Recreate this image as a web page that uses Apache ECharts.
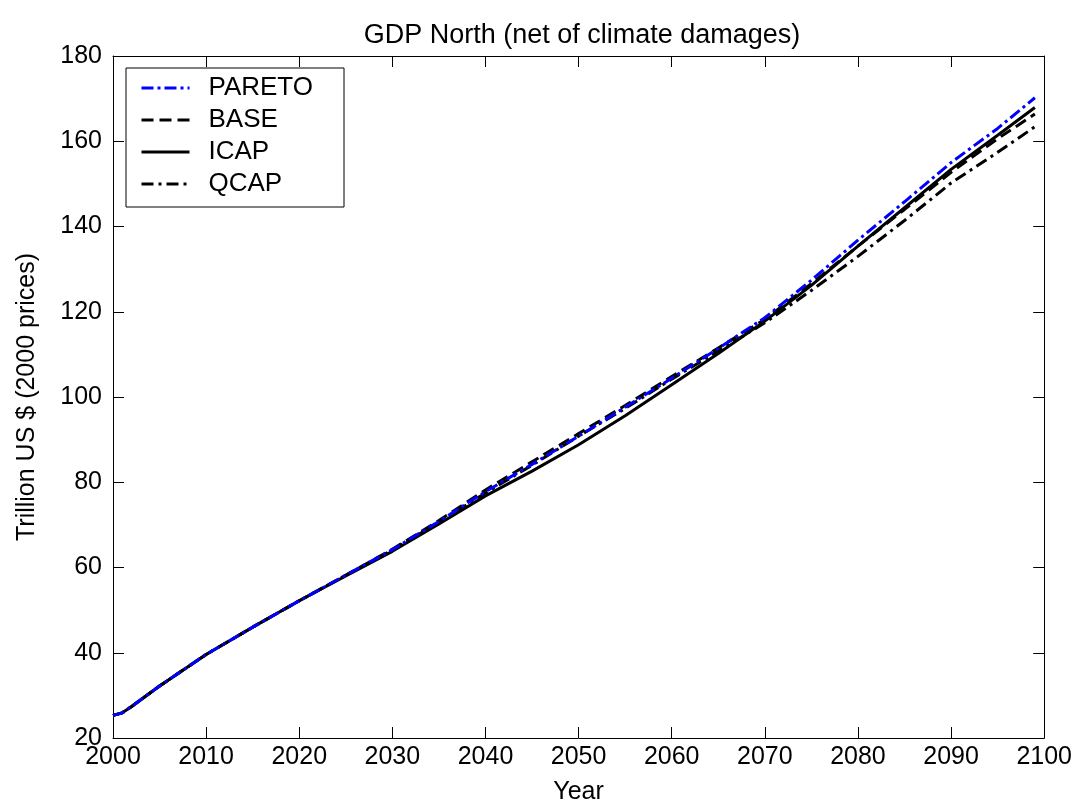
<!DOCTYPE html>
<html>
<head>
<meta charset="utf-8">
<script src="https://cdn.jsdelivr.net/npm/echarts@6/dist/echarts.min.js"></script>
<style>html,body{margin:0;padding:0;background:#fff;}#main{width:1075px;height:810px;}</style>
</head>
<body>
<div id="main"></div>
<script>
const years  = [2000, 2001, 2002, 2005, 2010, 2015, 2020, 2025, 2030, 2035, 2040, 2045, 2050, 2055, 2060, 2065, 2070, 2075, 2080, 2085, 2090, 2095, 2099];
const pareto = [25.3, 25.9, 27.4, 32.2, 39.6, 46.0, 52.2, 58.2, 64.2, 70.8, 77.8, 84.2, 90.8, 97.6, 104.4, 111.4, 118.6, 127.4, 136.8, 145.8, 155.0, 163.0, 170.2];
const base   = [25.3, 25.9, 27.4, 32.2, 39.6, 46.0, 52.2, 58.2, 64.3, 71.0, 78.2, 84.8, 91.4, 98.0, 104.8, 111.5, 118.2, 126.6, 135.4, 144.0, 152.7, 160.6, 166.4];
const icap   = [25.3, 25.9, 27.4, 32.2, 39.6, 46.0, 52.2, 58.0, 63.8, 70.2, 76.8, 82.6, 88.8, 95.6, 102.9, 110.2, 117.8, 126.2, 135.4, 144.4, 153.4, 161.4, 167.9];
const qcap   = [25.3, 25.9, 27.4, 32.2, 39.6, 46.0, 52.2, 58.2, 64.1, 70.6, 77.5, 84.0, 90.8, 97.3, 104.2, 110.8, 117.4, 125.0, 133.0, 141.4, 150.2, 157.4, 163.4];
const seriesNames = ['PARETO', 'BASE', 'ICAP', 'QCAP'];
const xTicks = [2000, 2010, 2020, 2030, 2040, 2050, 2060, 2070, 2080, 2090, 2100];
const yTicks = [20, 40, 60, 80, 100, 120, 140, 160, 180];

const FONT = 'Liberation Sans, Arial, Helvetica, sans-serif';
const pairs = arr => years.map((y, i) => [y, arr[i]]);

const axisCommon = {
  axisLine: { show: true, lineStyle: { color: '#000', width: 1 } },
  axisTick: { show: true, inside: true, length: 11, lineStyle: { color: '#000', width: 1 } },
  splitLine: { show: false }
};

const chart = echarts.init(document.getElementById('main'), null, { renderer: 'canvas' });
chart.setOption({
  backgroundColor: '#fff',
  animation: false,
  title: {
    text: 'GDP North (net of climate damages)',
    left: 577, top: 17, textAlign: 'center',
    textStyle: { fontFamily: FONT, fontSize: 27, fontWeight: 'normal', color: '#000' }
  },
  legend: {
    data: seriesNames,
    orient: 'vertical',
    left: 126, top: 68,
    padding: [7, 31, 10, 14],
    itemGap: 6,
    itemWidth: 48, itemHeight: 14,
    borderColor: '#000', borderWidth: 1,
    backgroundColor: '#fff',
    itemStyle: { opacity: 0 },
    lineStyle: { width: 3 },
    textStyle: { fontFamily: FONT, fontSize: 26, color: '#000', lineHeight: 26, padding: [0, 0, 0, 14] }
  },
  grid: { left: 113, right: 29, top: 56, bottom: 68 },
  xAxis: [
    Object.assign({
      type: 'value', min: xTicks[0], max: xTicks[xTicks.length - 1], interval: 10,
      name: 'Year', nameLocation: 'middle', nameGap: 42,
      nameTextStyle: { fontFamily: FONT, fontSize: 25, color: '#000' },
      axisLabel: { fontFamily: FONT, fontSize: 25, color: '#000', margin: 7, formatter: v => String(v) }
    }, axisCommon),
    Object.assign({
      type: 'value', position: 'top', min: xTicks[0], max: xTicks[xTicks.length - 1], interval: 10,
      axisLabel: { show: false }
    }, axisCommon)
  ],
  yAxis: [
    Object.assign({
      type: 'value', min: yTicks[0], max: yTicks[yTicks.length - 1], interval: 20,
      name: 'Trillion US $ (2000 prices)', nameLocation: 'middle', nameGap: 73,
      nameTextStyle: { fontFamily: FONT, fontSize: 25, color: '#000' },
      axisLabel: { fontFamily: FONT, fontSize: 25, color: '#000', margin: 11, formatter: v => String(v) }
    }, axisCommon),
    Object.assign({
      type: 'value', position: 'right', min: yTicks[0], max: yTicks[yTicks.length - 1], interval: 20,
      axisLabel: { show: false }
    }, axisCommon)
  ],
  series: [
    { name: 'BASE', type: 'line', data: pairs(base), showSymbol: false, symbol: 'none', z: 2,
      lineStyle: { color: '#000', width: 3, type: [12, 6] }, itemStyle: { color: '#000' } },
    { name: 'ICAP', type: 'line', data: pairs(icap), showSymbol: false, symbol: 'none', z: 2,
      lineStyle: { color: '#000', width: 3, type: 'solid' }, itemStyle: { color: '#000' } },
    { name: 'QCAP', type: 'line', data: pairs(qcap), showSymbol: false, symbol: 'none', z: 2,
      lineStyle: { color: '#000', width: 3, type: [12, 5, 3, 5] }, itemStyle: { color: '#000' } },
    { name: 'PARETO', type: 'line', data: pairs(pareto), showSymbol: false, symbol: 'none', z: 3,
      lineStyle: { color: '#0000ff', width: 3, type: [12, 4, 3, 4] }, itemStyle: { color: '#0000ff' } }
  ]
});
</script>
</body>
</html>
